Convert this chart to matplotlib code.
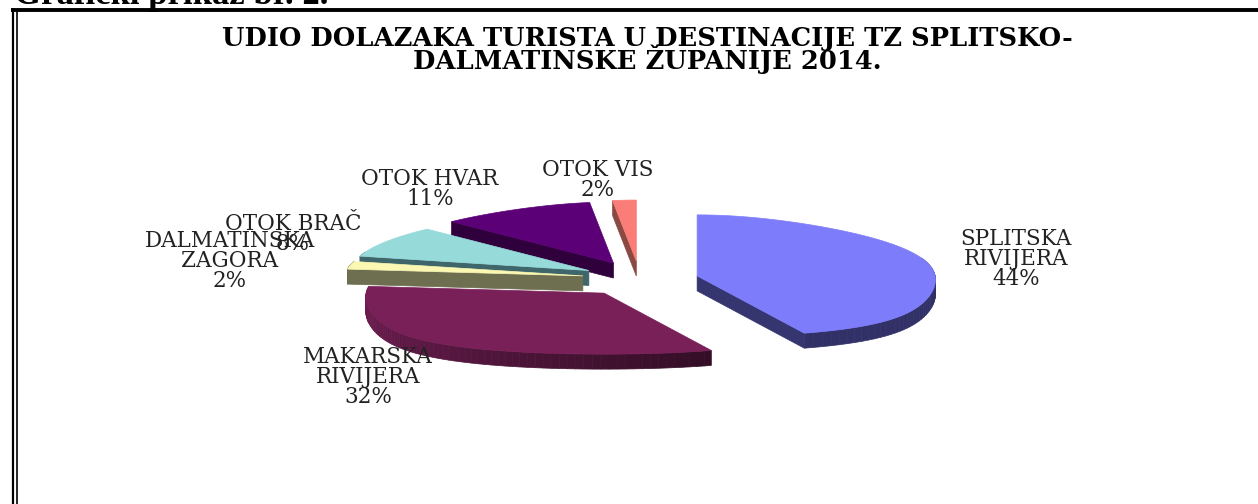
import numpy as np
import matplotlib
matplotlib.use("Agg")
from matplotlib import pyplot as plt

plt.rcParams['font.family'] = ['DejaVu Serif']

# data
categories = ['SPLITSKA\nRIVIJERA', 'MAKARSKA\nRIVIJERA', 'DALMATINSKA\nZAGORA', 'OTOK BRAČ', 'OTOK HVAR', 'OTOK VIS']
values = [44, 32, 2, 8, 11, 2]

# styles per slice, same order as categories
top_colors = ['#7d7dfb', '#7a2059', '#fbf8b4', '#97dada', '#5c0077', '#fb7d78']
side_colors = ['#35356f', '#6a1c4e', '#6e6e50', '#3f666a', '#30003c', '#8a4a42']
label_xy = [(1016, 259), (368, 377), (230, 261), (293, 234), (430, 189), (598, 180)]
draw_order = [0, 5, 4, 3, 1, 2]

# pie geometry, in figure pixels
cx, cy = 640, 279
rx, ry = 238, 61
depth = 15
explode = 58
explode_y = 0.31

fig = plt.figure(figsize=(12.58, 5.04), dpi=100)
ax = fig.add_axes([0, 0, 1, 1])
ax.set_xlim(0, 1258)
ax.set_ylim(504, 0)
ax.axis('off')


def to_page(t, r, x0, y0):
    # t is clockwise from 12 o'clock, near side of the pie is wider than the far side
    up = np.cos(t) * r
    grow = 1 - 0.05 * up + 0.077 * up ** 2 - 0.243 * up ** 3
    return x0 + rx * r * np.sin(t) * grow, y0 - ry * up


shares = np.array(values) / sum(values) * 2 * np.pi
starts = np.concatenate([[0], np.cumsum(shares)[:-1]])

for i in draw_order:
    t0, t1 = starts[i], starts[i] + shares[i]
    mid = (t0 + t1) / 2
    x0 = cx + explode * np.sin(mid)
    y0 = cy - explode * explode_y * np.cos(mid)
    ts = np.linspace(t0, t1, 80)
    ax_, ay_ = to_page(ts, 1, x0, y0)
    z = draw_order.index(i) * 2

    # rim, shaded along the arc
    for a, b in zip(range(len(ts) - 1), range(1, len(ts))):
        if np.cos(ts[a]) < 0.3:
            k = 0.62 + 0.38 * (-np.sin(ts[a]) if i == 1 else 0.8)
            col = np.array(matplotlib.colors.to_rgb(side_colors[i])) * min(k, 1)
            ax.fill([ax_[a], ax_[b], ax_[b], ax_[a]],
                    [ay_[a], ay_[b], ay_[b] + depth, ay_[a] + depth],
                    color=col, lw=0.5, zorder=z)

    # only the cut faces turned towards the viewer
    for t, normal in ((t0, t0 - np.pi / 2), (t1, t1 + np.pi / 2)):
        if np.cos(normal) < -1e-6:
            ex, ey = to_page(t, 1, x0, y0)
            ax.fill([x0, ex, ex, x0], [y0, ey, ey + depth, y0 + depth],
                    color=side_colors[i], lw=0.5, zorder=z)

    # top of slice
    ax.fill(np.r_[x0, ax_], np.r_[y0, ay_], color=top_colors[i], lw=0.5, zorder=z + 1)

for name, v, (lx, ly) in zip(categories, values, label_xy):
    ax.text(lx, ly, f'{name}\n{v}%', ha='center', va='center', fontsize=15.5,
            linespacing=0.88, color='#222222', zorder=30)

ax.text(647, 50, 'UDIO DOLAZAKA TURISTA U DESTINACIJE TZ SPLITSKO-\nDALMATINSKE ŽUPANIJE 2014.',
        ha='center', va='center', fontsize=18.5, fontweight='bold', linespacing=0.75, color='black')

# page text and double frame from the document around the chart
ax.text(14, 4, 'Grafički prikaz br. 2.', fontsize=25, fontweight='bold', color='black',
        ha='left', va='baseline', family='Liberation Serif')
ax.plot([12.5, 12.5], [8, 504], color='black', lw=1.6, solid_capstyle='butt')
ax.plot([16.5, 16.5], [11, 504], color='black', lw=1.2, solid_capstyle='butt')
ax.plot([11, 1258], [9.5, 9.5], color='black', lw=2.8, solid_capstyle='butt')

fig.savefig('out.png', dpi=100)
